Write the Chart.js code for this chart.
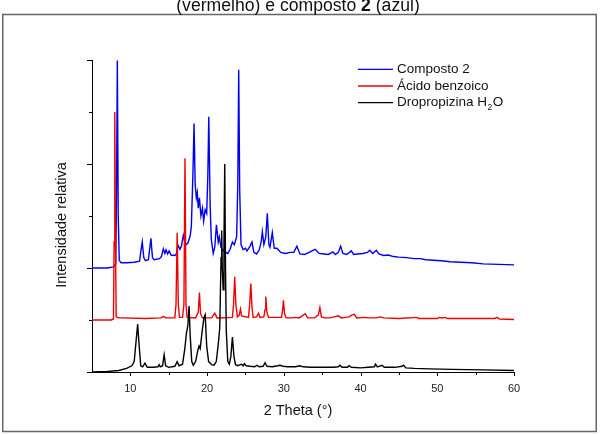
<!DOCTYPE html>
<html>
<head>
<meta charset="utf-8">
<script src="https://cdn.jsdelivr.net/npm/chart.js@4"></script>
<style>
html,body{margin:0;padding:0;background:#fff;}
canvas{display:block;}
</style>
</head>
<body>
<canvas id="c" width="600" height="435"></canvas>
<script>
// ---- data: [2theta, relative intensity (offset)] ----
const seriesNames = ['Composto 2', 'Ácido benzoico', 'Dropropizina H₂O'];
const xTicks = [10, 20, 30, 40, 50, 60];

const composto2 = [
 [5,2.0],[7.0,2.0],[7.8,2.02],[8.1,2.08],[8.2,3.5],[8.3,5.99],[8.42,3.0],[8.55,2.15],[8.8,2.1],
 [9.5,2.1],[10.5,2.11],[11.2,2.13],[11.35,2.3],[11.55,2.5],[11.75,2.2],[11.95,2.14],[12.35,2.16],
 [12.5,2.35],[12.68,2.57],[12.88,2.2],[13.1,2.16],[13.8,2.18],[14.05,2.22],[14.3,2.37],[14.5,2.28],
 [14.65,2.35],[14.85,2.27],[15.05,2.33],[15.3,2.25],[15.8,2.24],[16.0,2.27],[16.2,2.44],[16.45,2.36],
 [16.65,2.42],[16.9,2.63],[17.2,2.44],[17.5,2.48],[17.8,2.62],[17.95,2.8],[18.15,3.8],[18.3,4.78],
 [18.45,3.6],[18.6,3.35],[18.72,3.45],[18.85,3.15],[19.0,3.35],[19.2,3.0],[19.4,3.15],[19.55,2.9],
 [19.75,3.12],[19.95,3.05],[20.1,3.8],[20.22,4.91],[20.4,3.2],[20.55,2.55],[20.8,2.28],[21.0,2.4],
 [21.22,2.83],[21.45,2.5],[21.6,2.6],[21.8,2.4],[22.2,2.32],[22.7,2.28],[23.0,2.36],[23.3,2.5],
 [23.55,2.45],[23.85,2.6],[24.0,3.6],[24.12,5.81],[24.25,3.5],[24.42,2.45],[24.7,2.35],[25.0,2.38],
 [25.2,2.33],[25.6,2.42],[25.85,2.5],[26.1,2.3],[26.45,2.27],[26.8,2.35],[27.05,2.5],[27.2,2.7],
 [27.4,2.45],[27.65,2.6],[27.85,3.05],[28.05,2.45],[28.2,2.4],[28.5,2.68],[28.75,2.38],[29.1,2.38],
 [29.6,2.3],[30.2,2.28],[30.8,2.3],[31.3,2.3],[31.7,2.42],[32.1,2.27],[32.7,2.26],[33.3,2.3],
 [33.8,2.34],[34.1,2.36],[34.6,2.28],[35.2,2.27],[35.8,2.26],[36.4,2.31],[36.7,2.26],[37.1,2.3],
 [37.4,2.42],[37.7,2.28],[38.2,2.26],[38.8,2.33],[39.1,2.26],[39.6,2.27],[40.3,2.28],[40.9,2.3],
 [41.2,2.34],[41.6,2.28],[42.05,2.34],[42.4,2.27],[43.0,2.24],[43.6,2.25],[44.3,2.22],[45.0,2.21],
 [46.0,2.2],[47.0,2.18],[47.8,2.18],[48.5,2.16],[49.5,2.15],[50.5,2.14],[51.7,2.12],[53.0,2.11],
 [54.5,2.1],[56.0,2.08],[58.0,2.07],[60.0,2.06]
];

const acidoBenzoico = [
 [5,1.0],[7.5,1.0],[7.8,1.02],[7.88,2.5],[7.97,5.0],[8.06,2.5],[8.15,1.06],[8.5,1.04],[9.0,1.04],
 [12.0,1.03],[14.0,1.04],[14.3,1.07],[14.6,1.04],[15.8,1.04],[15.95,1.3],[16.1,2.68],[16.25,1.3],
 [16.4,1.05],[16.8,1.05],[16.98,1.3],[17.12,4.11],[17.25,1.3],[17.4,1.05],[18.5,1.04],[18.85,1.15],
 [19.0,1.53],[19.15,1.12],[19.4,1.04],[20.6,1.04],[21.0,1.13],[21.3,1.04],[23.3,1.05],[23.45,1.3],
 [23.6,1.83],[23.75,1.3],[23.95,1.06],[24.2,1.1],[24.35,1.21],[24.5,1.08],[25.4,1.05],[25.55,1.3],
 [25.7,1.7],[25.85,1.25],[26.0,1.05],[26.45,1.06],[26.7,1.13],[26.9,1.05],[27.4,1.06],[27.55,1.2],
 [27.65,1.45],[27.8,1.15],[28.0,1.05],[29.7,1.05],[29.85,1.2],[29.95,1.38],[30.1,1.12],[30.3,1.04],
 [31.0,1.04],[31.5,1.05],[32.0,1.04],[32.8,1.12],[33.1,1.04],[34.0,1.04],[34.5,1.1],[34.7,1.24],
 [34.9,1.06],[35.3,1.04],[36.0,1.04],[37.1,1.08],[37.5,1.04],[38.0,1.05],[38.5,1.06],[38.9,1.1],
 [39.2,1.11],[39.5,1.04],[40.5,1.05],[41.0,1.04],[42.0,1.04],[42.6,1.06],[43.0,1.04],[45.0,1.03],
 [47.3,1.05],[47.6,1.03],[50.0,1.03],[50.3,1.05],[50.6,1.04],[51.0,1.05],[51.3,1.03],[54.5,1.03],
 [57.5,1.03],[57.8,1.05],[58.1,1.02],[60,1.01]
];

const dropropizina = [
 [5,0.0],[7.0,0.01],[8.5,0.03],[9.5,0.07],[10.2,0.12],[10.5,0.2],[10.75,0.6],[10.95,0.92],[11.15,0.5],
 [11.35,0.12],[11.6,0.1],[11.9,0.17],[12.2,0.09],[13.0,0.09],[13.6,0.1],[13.75,0.14],[13.9,0.1],
 [14.2,0.12],[14.4,0.33],[14.6,0.12],[15.0,0.09],[15.8,0.11],[16.1,0.2],[16.35,0.12],[16.8,0.15],
 [17.1,0.45],[17.3,0.74],[17.5,0.9],[17.65,1.27],[17.8,0.7],[18.0,0.2],[18.2,0.13],[18.5,0.2],
 [18.8,0.42],[18.95,0.5],[19.1,0.45],[19.4,0.84],[19.6,1.05],[19.75,1.1],[19.95,0.5],[20.2,0.2],
 [20.6,0.14],[20.9,0.13],[21.2,0.2],[21.5,0.6],[21.65,0.85],[21.82,2.2],[21.9,2.72],[21.98,2.0],
 [22.1,1.58],[22.2,2.5],[22.3,4.0],[22.4,2.0],[22.5,0.8],[22.7,0.2],[22.9,0.15],[23.1,0.3],
 [23.3,0.67],[23.5,0.3],[23.7,0.14],[24.0,0.12],[24.5,0.15],[24.7,0.12],[24.85,0.16],[25.1,0.12],
 [25.6,0.11],[26.2,0.1],[26.5,0.13],[26.8,0.1],[27.3,0.11],[27.55,0.18],[27.8,0.11],[28.5,0.1],
 [29.2,0.12],[29.5,0.13],[29.9,0.11],[30.5,0.1],[31.5,0.1],[32.1,0.12],[32.5,0.1],[33.5,0.09],
 [35.0,0.09],[36.5,0.09],[37.1,0.1],[37.3,0.13],[37.6,0.09],[38.3,0.09],[38.5,0.12],[38.8,0.09],
 [40.0,0.08],[41.0,0.09],[41.8,0.1],[41.95,0.15],[42.2,0.1],[42.8,0.13],[43.1,0.09],[44.5,0.09],
 [45.4,0.11],[45.6,0.13],[45.9,0.08],[47,0.07],[49,0.06],[52,0.05],[56,0.04],[60,0.03]
];

const colors = ['#0000f0', '#f00000', '#000000'];
const FONT = "'Liberation Sans', Arial, sans-serif";

const toXY = arr => arr.map(p => ({x: p[0], y: p[1]}));

const decorPlugin = {
  id: 'decor',
  afterDraw(chart) {
    const ctx = chart.ctx;
    const xs = chart.scales.x, ys = chart.scales.y;
    ctx.save();
    // outer frame
    ctx.strokeStyle = '#666';
    ctx.lineWidth = 1.5;
    ctx.strokeRect(2.75, 14.5, 593.5, 417);
    // ticks
    ctx.strokeStyle = '#000';
    ctx.lineWidth = 1;
    const yb = ys.bottom, xl = xs.left;
    for (let v = 10; v <= 60; v += 5) {
      const px = Math.round(xs.getPixelForValue(v)) + 0.5;
      const len = (v % 10 === 0) ? 4 : 3;
      ctx.beginPath(); ctx.moveTo(px, yb); ctx.lineTo(px, yb + len); ctx.stroke();
    }
    for (let v = 0; v <= 6; v += 1) {
      const py = Math.round(ys.getPixelForValue(v)) + 0.5;
      const len = (v % 2 === 0) ? 5 : 3;
      ctx.beginPath(); ctx.moveTo(xl, py); ctx.lineTo(xl - len, py); ctx.stroke();
    }
    // axis titles
    ctx.fillStyle = '#111';
    ctx.font = '14.5px ' + FONT;
    ctx.textAlign = 'center';
    ctx.textBaseline = 'middle';
    ctx.fillText('2 Theta (°)', 298, 411);
    ctx.save();
    ctx.translate(62, 225);
    ctx.rotate(-Math.PI / 2);
    ctx.fillText('Intensidade relativa', 0, 0);
    ctx.restore();
    // clipped title
    ctx.textAlign = 'left';
    ctx.textBaseline = 'alphabetic';
    const parts = [['(vermelho) e composto ', 'normal'], ['2', 'bold'], [' (azul)', 'normal']];
    const tsize = 17.6;
    let total = 0;
    parts.forEach(p => { ctx.font = p[1] + ' ' + tsize + 'px ' + FONT; total += ctx.measureText(p[0]).width; });
    let tx = 298 - total / 2;
    parts.forEach(p => {
      ctx.font = p[1] + ' ' + tsize + 'px ' + FONT;
      ctx.fillText(p[0], tx, 10.5);
      tx += ctx.measureText(p[0]).width;
    });
    // legend
    const ly = [69.3, 86, 102.7];
    ctx.lineWidth = 1.3;
    for (let i = 0; i < 3; i++) {
      ctx.strokeStyle = colors[i];
      ctx.beginPath(); ctx.moveTo(358, ly[i]); ctx.lineTo(393, ly[i]); ctx.stroke();
    }
    ctx.fillStyle = '#111';
    ctx.textBaseline = 'middle';
    ctx.font = '13.5px ' + FONT;
    ctx.fillText(seriesNames[0], 397, ly[0]);
    ctx.fillText(seriesNames[1], 397, ly[1]);
    const base = 'Dropropizina H';
    ctx.fillText(base, 397, ly[2]);
    let lx = 397 + ctx.measureText(base).width;
    ctx.font = '8.5px ' + FONT;
    ctx.fillText('2', lx + 0.5, ly[2] + 5);
    lx += ctx.measureText('2').width + 1;
    ctx.font = '13.5px ' + FONT;
    ctx.fillText('O', lx, ly[2]);
    ctx.restore();
  }
};

new Chart(document.getElementById('c'), {
  type: 'scatter',
  data: {
    datasets: [
      {label: seriesNames[0], data: toXY(composto2), borderColor: colors[0], order: 2},
      {label: seriesNames[1], data: toXY(acidoBenzoico), borderColor: colors[1], order: 1},
      {label: seriesNames[2], data: toXY(dropropizina), borderColor: colors[2], order: 0}
    ].map(d => Object.assign(d, {showLine: true, pointRadius: 0, borderWidth: 1.4, tension: 0, fill: false}))
  },
  options: {
    responsive: false,
    devicePixelRatio: 1,
    animation: false,
    layout: {padding: {top: 60, right: 86, left: 0, bottom: 0}},
    plugins: {legend: {display: false}, tooltip: {enabled: false}, title: {display: false}},
    scales: {
      x: {
        type: 'linear', min: 5, max: 60,
        afterFit: s => { s.height = 63; },
        afterBuildTicks: s => { s.ticks = xTicks.map(v => ({value: v})); },
        grid: {display: false, drawTicks: false},
        border: {display: true, color: '#000', width: 1},
        ticks: {padding: 10, color: '#222', font: {family: FONT, size: 11}, maxRotation: 0, autoSkip: false}
      },
      y: {
        type: 'linear', min: 0, max: 6,
        afterFit: s => { s.width = 92; },
        grid: {display: false, drawTicks: false},
        border: {display: true, color: '#000', width: 1},
        ticks: {display: false}
      }
    }
  },
  plugins: [decorPlugin]
});
</script>
</body>
</html>
